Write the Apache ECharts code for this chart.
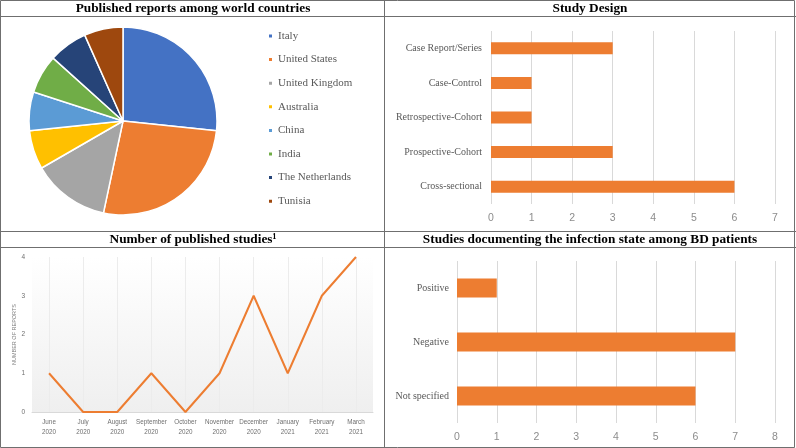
<!DOCTYPE html>
<html>
<head>
<meta charset="utf-8">
<script src="https://cdn.jsdelivr.net/npm/echarts@6/dist/echarts.min.js"></script>
<style>html,body{margin:0;padding:0;background:#fff}#c{width:796px;height:448px}</style>
</head>
<body>
<div id="c"></div>
<script>
// ---- data ----
const countries = ['Italy','United States','United Kingdom','Australia','China','India','The Netherlands','Tunisia'];
const countryReports = [4,4,2,1,1,1,1,1];
const countryColors = ['#4472C4','#ED7D31','#A5A5A5','#FFC000','#5B9BD5','#70AD47','#264478','#9E480E'];

const designs = ['Cross-sectional','Prospective-Cohort','Retrospective-Cohort','Case-Control','Case Report/Series'];
const designCounts = [6,3,1,1,3];

const months = ['June\n2020','July\n2020','August\n2020','September\n2020','October\n2020','November\n2020','December\n2020','January\n2021','February\n2021','March\n2021'];
const monthlyReports = [1,0,0,1,0,1,3,1,3,4];

const infectionStates = ['Not specified','Negative','Positive'];
const infectionCounts = [6,7,1];

const titles = ['Published reports among world countries','Study Design','Number of published studies\u00B9','Studies documenting the infection state among BD patients'];

// ---- chart ----
const chart = echarts.init(document.getElementById('c'), null, {renderer:'canvas'});
const serif = '"Liberation Serif", "Times New Roman", serif';
const sans = '"Liberation Sans", Arial, sans-serif';
const border = '#6f6f6f';
const orange = '#ED7D31';
const grid = '#d9d9d9';

function hline(y){return {type:'line',shape:{x1:0,y1:y,x2:796,y2:y},style:{stroke:border,lineWidth:1},z:100};}
function ttl(t,x,y){return {type:'text',x:x,y:y,style:{text:t,textAlign:'center',textVerticalAlign:'middle',font:'bold 13.3px '+serif,fill:'#000'},z:100};}

chart.setOption({
  animation:false,
  color: countryColors,
  graphic:[
    {type:'rect',shape:{x:0.5,y:0.5,width:794,height:447},style:{fill:null,stroke:border,lineWidth:1},z:100},
    hline(16.5), hline(231.5), hline(247.5),
    {type:'line',shape:{x1:384.5,y1:0,x2:384.5,y2:448},style:{stroke:border,lineWidth:1},z:100},
    ttl(titles[0],193,8.5), ttl(titles[1],590,8.5), ttl(titles[2],193,239.5), ttl(titles[3],590,239.5)
  ],
  legend:{
    orient:'vertical', left:262, top:24, itemWidth:5, itemHeight:5, icon:'rect', itemGap:9.6,
    textStyle:{fontFamily:serif,fontSize:11,color:'#595959',lineHeight:14},
    data: countries
  },
  grid:[
    {left:491, top:31, width:284, height:173},
    {left:32, top:257, width:341, height:155, show:true, borderWidth:0,
     backgroundColor:{type:'linear',x:0,y:0,x2:0,y2:1,colorStops:[{offset:0,color:'#ffffff'},{offset:1,color:'#efefef'}]}},
    {left:457, top:261, width:318, height:162}
  ],
  xAxis:[
    {gridIndex:0,type:'value',min:0,max:7,interval:1,axisLine:{show:false},axisTick:{show:false},
     splitLine:{lineStyle:{color:grid}},axisLabel:{fontFamily:sans,fontSize:10.5,color:'#8c8c8c',margin:9}},
    {gridIndex:1,type:'category',data:months,boundaryGap:true,
     axisLine:{lineStyle:{color:'#d9d9d9'}},
     axisTick:{show:true,alignWithLabel:true,inside:true,length:155,lineStyle:{color:'#ececec'}},
     axisLabel:{fontFamily:sans,fontSize:6.3,color:'#6f6f6f',lineHeight:9.5,margin:6,interval:0}},
    {gridIndex:2,type:'value',min:0,max:8,interval:1,axisLine:{show:false},axisTick:{show:false},
     splitLine:{lineStyle:{color:grid}},axisLabel:{fontFamily:sans,fontSize:10.5,color:'#8c8c8c',margin:9}}
  ],
  yAxis:[
    {gridIndex:0,type:'category',data:designs,axisLine:{show:false},axisTick:{show:false},
     axisLabel:{fontFamily:serif,fontSize:10,color:'#595959',margin:9}},
    {gridIndex:1,type:'value',min:0,max:4,interval:1,axisLine:{show:false},axisTick:{show:false},splitLine:{show:false},
     name:'NUMBER OF REPORTS',nameLocation:'middle',nameGap:14,nameRotate:90,
     nameTextStyle:{fontFamily:sans,fontSize:5.5,color:'#7f7f7f'},
     axisLabel:{fontFamily:sans,fontSize:6.5,color:'#6f6f6f',margin:7}},
    {gridIndex:2,type:'category',data:infectionStates,axisLine:{show:false},axisTick:{show:false},
     axisLabel:{fontFamily:serif,fontSize:10,color:'#595959',margin:8}}
  ],
  series:[
    {type:'pie',center:[123,121],radius:94,startAngle:90,clockwise:true,label:{show:false},labelLine:{show:false},
     itemStyle:{borderColor:'#fff',borderWidth:1.5},
     data: countries.map((n,i)=>({name:n,value:countryReports[i]}))},
    {type:'bar',xAxisIndex:0,yAxisIndex:0,data:designCounts,barWidth:12,itemStyle:{color:orange}},
    {type:'line',xAxisIndex:1,yAxisIndex:1,data:monthlyReports,symbol:'none',lineStyle:{color:orange,width:2}},
    {type:'bar',xAxisIndex:2,yAxisIndex:2,data:infectionCounts,barWidth:19,itemStyle:{color:orange}}
  ]
});
</script>
</body>
</html>
